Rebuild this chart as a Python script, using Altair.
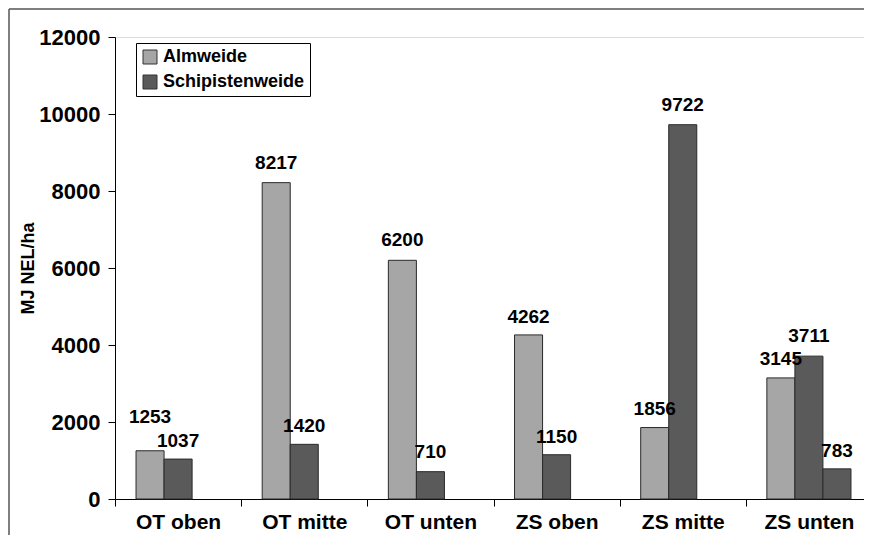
import altair as alt
import pandas as pd

categories = ["OT oben", "OT mitte", "OT unten", "ZS oben", "ZS mitte", "ZS unten"]
series_names = ["Almweide", "Schipistenweide", "Schipistenweide 2"]
almweide = [1253, 8217, 6200, 4262, 1856, 3145]
schipistenweide = [1037, 1420, 710, 1150, 9722, 3711]
extra_category = ["ZS unten"]
extra_values = [783]

# label nudges above bar tops (pixels), as placed in the original
lift_alm = [34, 20, 20, 18, 19, 19]
lift_schi = [18, 18, 20, 18, 20, 20]
lift_extra = [18]

rows = []
for c, v, l in zip(categories, almweide, lift_alm):
    rows.append({"cat": c, "series": series_names[0], "value": v, "lift": l})
for c, v, l in zip(categories, schipistenweide, lift_schi):
    rows.append({"cat": c, "series": series_names[1], "value": v, "lift": l})
for c, v, l in zip(extra_category, extra_values, lift_extra):
    rows.append({"cat": c, "series": series_names[2], "value": v, "lift": l})
df = pd.DataFrame(rows)

FONT = "Liberation Sans"
LIGHT = "#a6a6a6"
DARK = "#5a5a5a"

x_enc = alt.X("cat:N", sort=categories, title=None,
              scale=alt.Scale(paddingInner=0, paddingOuter=0, range=[0, 757]),
              axis=alt.Axis(labelAngle=0, tickBand="extent", labelFontSize=21,
                            labelFontWeight="bold", labelFont=FONT, labelColor="black",
                            domainColor="black", tickColor="black", tickSize=7,
                            labelPadding=5))
xoff = alt.XOffset("series:N", sort=series_names,
                   scale=alt.Scale(paddingInner=0, paddingOuter=0.75))
y_scale = alt.Scale(domain=[0, 12000], nice=False)

bars = alt.Chart(df).mark_bar(stroke="#2a2a2a", strokeWidth=1).encode(
    x=x_enc,
    xOffset=xoff,
    y=alt.Y("value:Q", scale=y_scale, title="MJ NEL/ha",
            axis=alt.Axis(values=[0, 2000, 4000, 6000, 8000, 10000, 12000], grid=False,
                          format="d",
                          labelFontSize=22, labelFontWeight="bold", labelFont=FONT,
                          labelColor="black", domainColor="black", tickColor="black",
                          tickSize=7, labelPadding=8, titleFontSize=18,
                          titleFontWeight="bold", titleFont=FONT, titleColor="black",
                          titlePadding=1)),
    color=alt.Color("series:N",
                    scale=alt.Scale(domain=series_names, range=[LIGHT, DARK, DARK]),
                    legend=alt.Legend(values=series_names[:2], title=None, orient="none",
                                      legendX=21, legendY=6, labelFontSize=18,
                                      labelFontWeight="bold", labelFont=FONT,
                                      labelColor="black", symbolType="square",
                                      symbolSize=196, symbolStrokeColor="#333",
                                      symbolStrokeWidth=1, symbolOpacity=1,
                                      strokeColor="black", fillColor="white",
                                      padding=5, rowPadding=7, labelOffset=4,
                                      cornerRadius=0)),
)

labels = alt.Chart(df).transform_calculate(
    label_y="datum.value + datum.lift * 12000 / 462"
).mark_text(font=FONT, fontSize=19, fontWeight="bold", color="black",
            baseline="middle", align="center").encode(
    x=alt.X("cat:N", sort=categories),
    xOffset=alt.XOffset("series:N", sort=series_names),
    y=alt.Y("label_y:Q", scale=y_scale),
    text=alt.Text("value:Q", format="d"),
)

frame_df = pd.DataFrame({"k": [0]})
frame_top = alt.Chart(frame_df).mark_rule(color="#555", strokeWidth=1.5, clip=False).encode(
    x=alt.value(-106), x2=alt.value(760), y=alt.value(-28))
frame_left = alt.Chart(frame_df).mark_rule(color="#555", strokeWidth=1.5, clip=False).encode(
    x=alt.value(-106), y=alt.value(-28), y2=alt.value(520))

chart = alt.layer(bars, labels, frame_top, frame_left).properties(
    width=749, height=462,
    padding={"left": 107, "top": 29, "right": 0, "bottom": 36},
    autosize=alt.AutoSizeParams(type="none"),
).configure_view(stroke=None).configure(background="transparent")

chart.save("out.html", embed_options={"renderer": "svg", "actions": False})
